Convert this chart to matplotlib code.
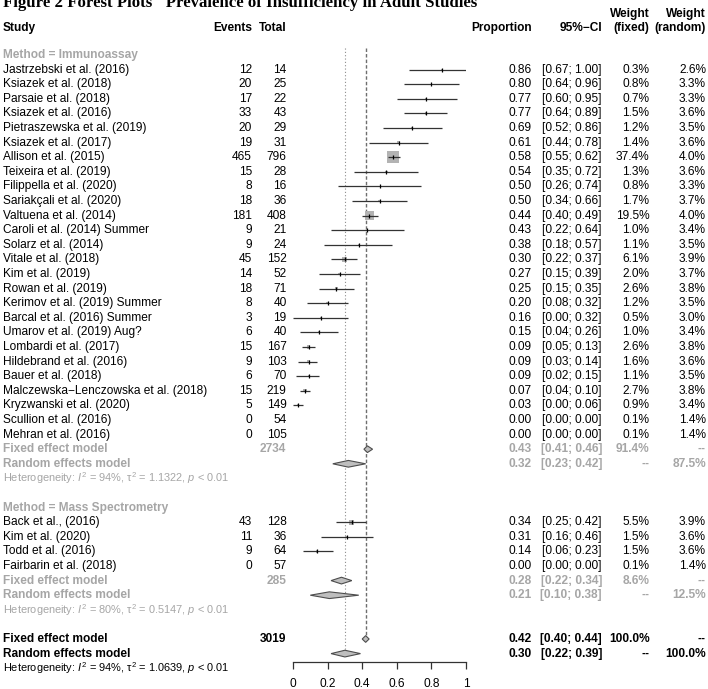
import matplotlib
matplotlib.use("Agg")
import numpy as np
import matplotlib.pyplot as plt
import matplotlib.transforms as mtransforms
from matplotlib.patches import Polygon

plt.rcParams["font.family"] = ["Liberation Sans", "DejaVu Sans"]
plt.rcParams["mathtext.fontset"] = "custom"
plt.rcParams["mathtext.rm"] = "Liberation Sans"
plt.rcParams["mathtext.it"] = "Liberation Sans:italic"
plt.rcParams["mathtext.bf"] = "Liberation Sans:bold"

# ---------------- data ----------------
title = 'Figure 2 Forest Plots "Prevalence of Insufficiency in Adult Studies"'
group_labels = ["Method = Immunoassay", "Method = Mass Spectrometry"]

immuno_studies = [
    "Jastrzebski et al. (2016)", "Ksiazek et al. (2018)", "Parsaie et al. (2018)",
    "Ksiazek et al. (2016)", "Pietraszewska et al. (2019)", "Ksiazek et al. (2017)",
    "Allison et al. (2015)", "Teixeira et al. (2019)", "Filippella et al. (2020)",
    "Sariakçali et al. (2020)", "Valtuena et al. (2014)", "Caroli et al. (2014) Summer",
    "Solarz et al. (2014)", "Vitale et al. (2018)", "Kim et al. (2019)",
    "Rowan et al. (2019)", "Kerimov et al. (2019) Summer", "Barcal et al. (2016) Summer",
    "Umarov et al. (2019) Aug?", "Lombardi et al. (2017)", "Hildebrand et al. (2016)",
    "Bauer et al. (2018)", "Malczewska\u2212Lenczowska et al. (2018)", "Kryzwanski et al. (2020)",
    "Scullion et al. (2016)", "Mehran et al. (2016)",
]
immuno_events = [12, 20, 17, 33, 20, 19, 465, 15, 8, 18, 181, 9, 9, 45, 14, 18, 8, 3, 6, 15, 9, 6, 15, 5, 0, 0]
immuno_total = [14, 25, 22, 43, 29, 31, 796, 28, 16, 36, 408, 21, 24, 152, 52, 71, 40, 19, 40, 167, 103, 70, 219, 149, 54, 105]
immuno_prop = [0.86, 0.80, 0.77, 0.77, 0.69, 0.61, 0.58, 0.54, 0.50, 0.50, 0.44, 0.43, 0.38, 0.30, 0.27,
               0.25, 0.20, 0.16, 0.15, 0.09, 0.09, 0.09, 0.07, 0.03, 0.00, 0.00]
immuno_lower = [0.67, 0.64, 0.60, 0.64, 0.52, 0.44, 0.55, 0.35, 0.26, 0.34, 0.40, 0.22, 0.18, 0.22, 0.15,
                0.15, 0.08, 0.00, 0.04, 0.05, 0.03, 0.02, 0.04, 0.00, 0.00, 0.00]
immuno_upper = [1.00, 0.96, 0.95, 0.89, 0.86, 0.78, 0.62, 0.72, 0.74, 0.66, 0.49, 0.64, 0.57, 0.37, 0.39,
                0.35, 0.32, 0.32, 0.26, 0.13, 0.14, 0.15, 0.10, 0.06, 0.00, 0.00]
immuno_wfixed = [0.3, 0.8, 0.7, 1.5, 1.2, 1.4, 37.4, 1.3, 0.8, 1.7, 19.5, 1.0, 1.1, 6.1, 2.0,
                 2.6, 1.2, 0.5, 1.0, 2.6, 1.6, 1.1, 2.7, 0.9, 0.1, 0.1]
immuno_wrandom = [2.6, 3.3, 3.3, 3.6, 3.5, 3.6, 4.0, 3.6, 3.3, 3.7, 4.0, 3.4, 3.5, 3.9, 3.7,
                  3.8, 3.5, 3.0, 3.4, 3.8, 3.6, 3.5, 3.8, 3.4, 1.4, 1.4]

ms_studies = ["Back et al., (2016)", "Kim et al. (2020)", "Todd et al. (2016)", "Fairbarin et al. (2018)"]
ms_events = [43, 11, 9, 0]
ms_total = [128, 36, 64, 57]
ms_prop = [0.34, 0.31, 0.14, 0.00]
ms_lower = [0.25, 0.16, 0.06, 0.00]
ms_upper = [0.42, 0.46, 0.23, 0.00]
ms_wfixed = [5.5, 1.5, 1.5, 0.1]
ms_wrandom = [3.9, 3.6, 3.6, 1.4]

# subgroup / overall summaries: (estimate, lower, upper)
immuno_fixed = (0.43, 0.41, 0.46)
immuno_random = (0.32, 0.23, 0.42)
immuno_n = 2734
immuno_wsum = (91.4, 87.5)
immuno_het = (94, 1.1322)

ms_fixed = (0.28, 0.22, 0.34)
ms_random = (0.21, 0.10, 0.38)
ms_n = 285
ms_wsum = (8.6, 12.5)
ms_het = (80, 0.5147)

overall_fixed = (0.42, 0.40, 0.44)
overall_random = (0.30, 0.22, 0.39)
overall_n = 3019
overall_het = (94, 1.0639)

x_ticks = [0, 0.2, 0.4, 0.6, 0.8, 1]
x_ticklabels = ["0", "0.2", "0.4", "0.6", "0.8", "1"]

# ---------------- layout ----------------
W, H = 708, 689
ROW0 = 55.0     # px of first row
ROWH = 14.6     # px per row
X0, X1 = 293, 466

fig = plt.figure(figsize=(W / 100, H / 100), dpi=100)
ax = fig.add_axes([X0 / W, 0, (X1 - X0) / W, 1])
ax.set_xlim(0, 1)
ax.set_ylim((H - ROW0) / ROWH, -ROW0 / ROWH)
ax.axis("off")

tr = mtransforms.blended_transform_factory(fig.transFigure, ax.transData)
FS = 8.6
GREY = "#A6A6A6"
COL_STUDY, COL_EV, COL_TOT, COL_PROP, COL_CI, COL_WF, COL_WR = 3, 252, 286.5, 532, 602, 649.5, 706


def txt(px, row, s, ha="right", color="black", weight="normal", size=FS):
    ax.text(px / W, row, s, transform=tr, ha=ha, va="center", color=color,
            fontweight=weight, fontsize=size, clip_on=False)


# headers
hdr_row = (28 - ROW0) / ROWH
hdr_row2 = (14 - ROW0) / ROWH
txt(COL_STUDY, hdr_row, "Study", ha="left", weight="bold")
txt(COL_EV, hdr_row, "Events", weight="bold")
txt(COL_TOT, hdr_row, "Total", weight="bold")
txt(COL_PROP, hdr_row, "Proportion", weight="bold")
txt(COL_CI, hdr_row, "95%\u2212CI", weight="bold")
txt(COL_WF, hdr_row, "(fixed)", weight="bold")
txt(COL_WR, hdr_row, "(random)", weight="bold")
txt(COL_WF, hdr_row2, "Weight", weight="bold")
txt(COL_WR, hdr_row2, "Weight", weight="bold")

# the title is cropped at the top edge in the reference figure
fig.text(3 / W, (H - 7) / H, title, family="Liberation Serif", fontweight="bold",
         fontsize=12.1, va="baseline", ha="left")

wmax = max(immuno_wfixed + ms_wfixed)
SQ_MAX_PX = 12.3
DH = 0.23  # diamond half height (rows)


def diamond(row, est, color="#BEBEBE"):
    e, lo, hi = est
    poly = Polygon([(lo, row), (e, row - DH), (hi, row), (e, row + DH)], closed=True,
                   facecolor=color, edgecolor="#4D4D4D", lw=0.8, zorder=3)
    ax.add_patch(poly)


def het_text(row, het, color):
    i2, tau2 = het
    s = ("Heterogeneity: $\\mathit{I}^2$ = %d%%, $\\mathrm{\\tau}^2$ = %.4f, $\\mathit{p}$ < 0.01"
         % (i2, tau2))
    txt(COL_STUDY, row, s, ha="left", color=color, size=7.9)


def group(start, label, studies, ev, tot, prop, lo, hi, wf, wr, fixed, random, n, wsum, het):
    txt(COL_STUDY, start, label, ha="left", color=GREY, weight="bold")
    rows = np.arange(len(studies)) + start + 1
    prop = np.array(prop); lo = np.array(lo); hi = np.array(hi); wf = np.array(wf)
    side_pt = SQ_MAX_PX * np.sqrt(wf / wmax) * 0.72
    ax.scatter(prop, rows, s=side_pt ** 2, marker="s", color="#B3B3B3", linewidths=0, zorder=2)
    vis = hi > lo
    ax.hlines(rows[vis], lo[vis], hi[vis], color="#333333", lw=0.9, zorder=3)
    ax.scatter(prop[vis], rows[vis], marker="|", s=9, color="black", linewidths=0.9, zorder=4)
    for r, s, e, t, p, l, h, a, b in zip(rows, studies, ev, tot, prop, lo, hi, wf, wr):
        txt(COL_STUDY, r, s, ha="left")
        txt(COL_EV, r, str(e))
        txt(COL_TOT, r, str(t))
        txt(COL_PROP, r, "%.2f" % p)
        txt(COL_CI, r, "[%.2f; %.2f]" % (l, h))
        txt(COL_WF, r, "%.1f%%" % a)
        txt(COL_WR, r, "%.1f%%" % b)
    rf = start + len(studies) + 1
    rr = rf + 1
    txt(COL_STUDY, rf, "Fixed effect model", ha="left", color=GREY, weight="bold")
    txt(COL_TOT, rf, str(n), color=GREY, weight="bold")
    txt(COL_PROP, rf, "%.2f" % fixed[0], color=GREY, weight="bold")
    txt(COL_CI, rf, "[%.2f; %.2f]" % fixed[1:], color=GREY, weight="bold")
    txt(COL_WF, rf, "%.1f%%" % wsum[0], color=GREY, weight="bold")
    txt(COL_WR, rf, "--", color=GREY, weight="bold")
    txt(COL_STUDY, rr, "Random effects model", ha="left", color=GREY, weight="bold")
    txt(COL_PROP, rr, "%.2f" % random[0], color=GREY, weight="bold")
    txt(COL_CI, rr, "[%.2f; %.2f]" % random[1:], color=GREY, weight="bold")
    txt(COL_WF, rr, "--", color=GREY, weight="bold")
    txt(COL_WR, rr, "%.1f%%" % wsum[1], color=GREY, weight="bold")
    diamond(rf, fixed)
    diamond(rr, random)
    het_text(rr + 1, het, GREY)
    return rr + 1


end1 = group(0, group_labels[0], immuno_studies, immuno_events, immuno_total, immuno_prop,
             immuno_lower, immuno_upper, immuno_wfixed, immuno_wrandom,
             immuno_fixed, immuno_random, immuno_n, immuno_wsum, immuno_het)
end2 = group(end1 + 2, group_labels[1], ms_studies, ms_events, ms_total, ms_prop,
             ms_lower, ms_upper, ms_wfixed, ms_wrandom,
             ms_fixed, ms_random, ms_n, ms_wsum, ms_het)

rf = end2 + 2
rr = rf + 1
txt(COL_STUDY, rf, "Fixed effect model", ha="left", weight="bold")
txt(COL_TOT, rf, str(overall_n), weight="bold")
txt(COL_PROP, rf, "%.2f" % overall_fixed[0], weight="bold")
txt(COL_CI, rf, "[%.2f; %.2f]" % overall_fixed[1:], weight="bold")
txt(COL_WF, rf, "100.0%", weight="bold")
txt(COL_WR, rf, "--", weight="bold")
txt(COL_STUDY, rr, "Random effects model", ha="left", weight="bold")
txt(COL_PROP, rr, "%.2f" % overall_random[0], weight="bold")
txt(COL_CI, rr, "[%.2f; %.2f]" % overall_random[1:], weight="bold")
txt(COL_WF, rr, "--", weight="bold")
txt(COL_WR, rr, "100.0%", weight="bold")
diamond(rf, overall_fixed)
diamond(rr, overall_random)
het_text(rr + 1, overall_het, "black")

# reference lines
ax.plot([overall_fixed[0]] * 2, [-0.5, rf - DH], color="#6E6E6E", lw=1.0,
        linestyle=(0, (2.5, 1.5)), zorder=1)
ax.plot([overall_random[0]] * 2, [-0.5, rr - DH], color="#8C8C8C", lw=0.8,
        linestyle=(0, (1, 2)), zorder=1)

# x axis
AX_Y = 662
ax2 = fig.add_axes([X0 / W, (H - AX_Y) / H, (X1 - X0) / W, 1e-6])
ax2.set_xlim(0, 1)
ax2.set_ylim(0, 1)
for sp in ["top", "left", "right"]:
    ax2.spines[sp].set_visible(False)
ax2.spines["bottom"].set_color("#333333")
ax2.spines["bottom"].set_linewidth(0.9)
ax2.set_yticks([])
ax2.set_xticks(x_ticks)
ax2.set_xticklabels(x_ticklabels, fontsize=FS)
ax2.tick_params(axis="x", direction="out", length=4.7, width=0.9, color="#333333", pad=6.5)
ax2.patch.set_visible(False)

fig.savefig("out.png", dpi=100)
